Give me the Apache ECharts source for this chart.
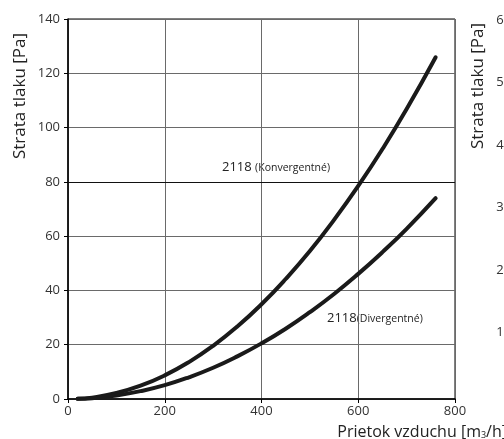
<!DOCTYPE html>
<html>
<head>
<meta charset="utf-8">
<script src="https://cdn.jsdelivr.net/npm/echarts@6/dist/echarts.min.js"></script>
<style>
  html, body { margin: 0; padding: 0; background: #fff; }
  #chart { width: 504px; height: 439px; }
</style>
</head>
<body>
<div id="chart"></div>
<script>
  // prietok vzduchu [m3/h]
  const flow = [20, 50, 100, 150, 200, 250, 300, 350, 400, 450, 500, 550, 600, 650, 700, 760]
  // strata tlaku [Pa]
  const konvergentne = [0.1, 0.5, 2.2, 4.9, 8.7, 13.6, 19.6, 26.7, 34.9, 44.2, 54.5, 66, 78.5, 92.1, 106.8, 125.9]
  const divergentne = [0.05, 0.3, 1.3, 2.9, 5.1, 8, 11.5, 15.7, 20.5, 25.9, 32, 38.7, 46.1, 54.1, 62.7, 74]

  const font = '"Open Sans", "Noto Sans", sans-serif'

  let chart = echarts.init(document.getElementById('chart'))

  function pairs (xs, ys) {
    return xs.map(function (x, i) { return [x, ys[i]] })
  }

  const curve = {
    type: 'line',
    smooth: true,
    symbol: 'none',
    xAxisIndex: 0,
    yAxisIndex: 0,
    lineStyle: { color: '#1a1a1a', width: 4, cap: 'round' }
  }

  chart.setOption({
    animation: false,
    textStyle: { fontFamily: font },
    grid: [
      { left: 68, right: 49, top: 19, bottom: 40, show: true, borderColor: '#000', borderWidth: 1 },
      // druhý graf vpravo, väčšinou mimo obrázok
      { left: 520, width: 300, top: 20, bottom: 44 }
    ],
    xAxis: [
      {
        gridIndex: 0,
        type: 'value',
        min: 0,
        max: 800,
        interval: 200,
        axisLine: { lineStyle: { color: '#000', width: 1.5 } },
        axisTick: { show: true, length: 4, lineStyle: { color: '#000' } },
        axisLabel: { color: '#333', fontSize: 13, margin: 6 },
        splitLine: { lineStyle: { color: '#6a6a6a', width: 1 } }
      },
      { gridIndex: 1, type: 'value', show: false }
    ],
    yAxis: [
      {
        gridIndex: 0,
        type: 'value',
        min: 0,
        max: 140,
        interval: 20,
        axisLine: { show: true, lineStyle: { color: '#000', width: 1.5 } },
        axisTick: { show: true, length: 4, lineStyle: { color: '#000' } },
        axisLabel: { color: '#333', fontSize: 13, margin: 8 },
        splitLine: { lineStyle: { color: '#6a6a6a', width: 1 } }
      },
      {
        gridIndex: 1,
        type: 'value',
        min: 0,
        max: 60,
        interval: 10,
        axisLine: { show: false },
        axisTick: { show: false },
        axisLabel: { color: '#333', fontSize: 13, margin: 9 },
        splitLine: { show: false }
      }
    ],
    series: [
      Object.assign({
        name: '2118 (Konvergentné)',
        data: pairs(flow, konvergentne),
        markLine: {
          silent: true,
          symbol: 'none',
          label: { show: false },
          lineStyle: { color: '#111', width: 1.2, type: 'solid' },
          data: [{ yAxis: 80 }]
        }
      }, curve),
      Object.assign({ name: '2118 (Divergentné)', data: pairs(flow, divergentne) }, curve)
    ],
    graphic: [
      {
        type: 'text', x: 20, y: 96, rotation: Math.PI / 2,
        style: { text: 'Strata tlaku [Pa]', font: '17px ' + font, fill: '#222', align: 'center', verticalAlign: 'middle' }
      },
      {
        type: 'text', x: 478, y: 86, rotation: Math.PI / 2,
        style: { text: 'Strata tlaku [Pa]', font: '17px ' + font, fill: '#222', align: 'center', verticalAlign: 'middle' }
      },
      {
        type: 'text', x: 507, y: 432,
        style: {
          text: '{a|Prietok vzduchu [m}{s|3}{a|/h]}',
          align: 'right', verticalAlign: 'middle',
          rich: {
            a: { fontSize: 16, fontFamily: font, fill: '#222' },
            s: { fontSize: 9, fontFamily: font, fill: '#222', padding: [6, 0, 0, 0] }
          }
        }
      },
      {
        type: 'text', x: 222, y: 167,
        style: {
          text: '{a|2118 }{b|(Konvergentné)}',
          verticalAlign: 'middle',
          rich: {
            a: { fontSize: 13, fontFamily: font, fill: '#222' },
            b: { fontSize: 10.5, fontFamily: font, fill: '#222', padding: [3, 0, 0, 0] }
          }
        }
      },
      {
        type: 'text', x: 327, y: 318,
        style: {
          text: '{a|2118}{b|(Divergentné)}',
          verticalAlign: 'middle',
          rich: {
            a: { fontSize: 13, fontFamily: font, fill: '#222' },
            b: { fontSize: 10.5, fontFamily: font, fill: '#222', padding: [3, 0, 0, 0] }
          }
        }
      }
    ]
  })
</script>
</body>
</html>
